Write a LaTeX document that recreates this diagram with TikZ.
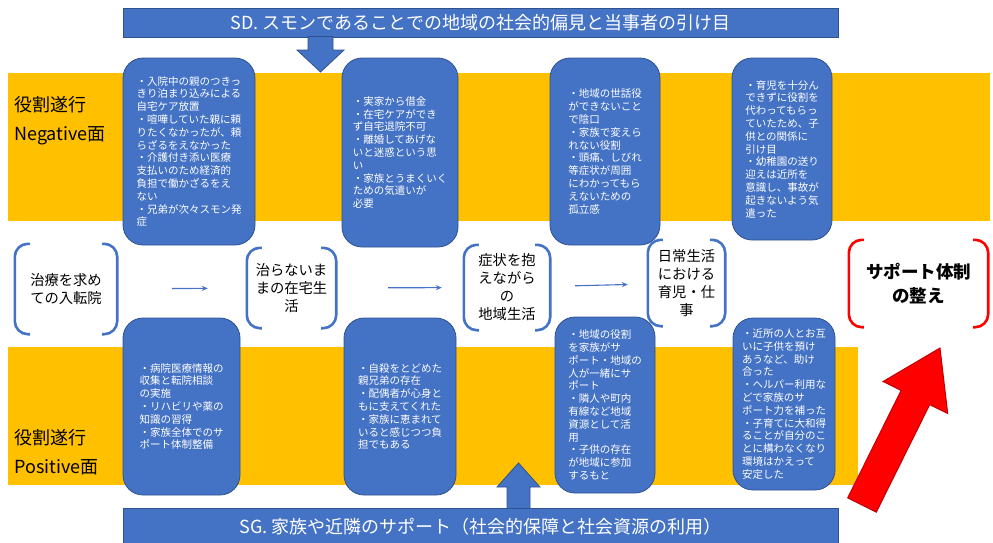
\documentclass[tikz,border=0pt]{standalone}
\usepackage{fontspec}
\setmainfont{Noto Sans CJK JP}
\usetikzlibrary{arrows.meta}
\definecolor{obl}{HTML}{4472C4}
\definecolor{obd}{HTML}{2F528F}
\definecolor{oyl}{HTML}{FFC000}
\definecolor{ored}{HTML}{FF0000}
\definecolor{oredd}{HTML}{C00000}
\newcommand\brkts[2]{%
  \draw[brk,draw=#2] ([xshift=15pt]#1.north west) -- (#1.north west) -- (#1.south west) -- ([xshift=15pt]#1.south west);
  \draw[brk,draw=#2] ([xshift=-15pt]#1.north east) -- (#1.north east) -- (#1.south east) -- ([xshift=-15pt]#1.south east);}
\begin{document}
\begin{tikzpicture}[x=1pt,y=-1pt,
  bbox/.style={draw=obd, line width=0.8pt, fill=obl, rounded corners=20pt, text=white,
    font=\fontsize{10.5}{12.8}\selectfont, align=left, inner sep=0pt},
  stage/.style={align=center, font=\fontsize{14.3}{18}\selectfont, inner sep=0pt, text=black},
  brk/.style={line width=2.6pt, rounded corners=13pt},
  banner/.style={draw=obd, line width=0.8pt, fill=obl, text=white, font=\fontsize{18}{20}\selectfont, inner sep=0pt},
  lbl/.style={font=\fontsize{18}{29}\selectfont, align=left, inner sep=0pt, anchor=west},
  arr/.style={draw=obl, line width=1.1pt, -{Stealth[length=6pt,width=5pt]}},
  barrow/.style={draw=obd, line width=0.8pt, fill=obl},
  band/.style={fill=oyl, draw=none}
]
\useasboundingbox (0,0) rectangle (993,542);
% yellow bands
\fill[band] (8,73) rectangle (990,221);
\fill[band] (8,347) rectangle (858,485);
% labels
\node[lbl] (lneg) at (14,120.5) {役割遂行\\Negative面};
\node[lbl] (lpos) at (14,452.5) {役割遂行\\Positive面};
% banners
\node[banner, minimum width=715pt, minimum height=29pt] (sd) at (480.5,22.5) {SD. スモンであることでの地域の社会的偏見と当事者の引け目};
\node[banner, minimum width=715pt, minimum height=38pt] (sg) at (480.5,527) {SG. 家族や近隣のサポート（社会的保障と社会資源の利用）};
% block arrows
\draw[barrow] (308,36.5) -- (333,36.5) -- (333,50) -- (344,50) -- (320.5,72) -- (297,50) -- (308,50) -- cycle;
\draw[barrow] (507,508.5) -- (530,508.5) -- (530,487) -- (540,487) -- (518.5,463) -- (497,487) -- (507,487) -- cycle;
% top boxes
\node[bbox, minimum width=132pt, minimum height=187pt] (n1) at (189,151.5) {・入院中の親のつきっ\\きり泊まり込みによる\\自宅ケア放置\\・喧嘩していた親に頼\\りたくなかったが、頼\\らざるをえなかった\\・介護付き添い医療\\支払いのため経済的\\負担で働かざるをえ\\ない\\・兄弟が次々スモン発\\症};
\node[bbox, minimum width=116pt, minimum height=189pt] (n2) at (400,152.5) {・実家から借金\\・在宅ケアができ\\ず自宅退院不可\\・離婚してあげな\\いと迷惑という思\\い\\・家族とうまくいく\\ための気遣いが\\必要};
\node[bbox, minimum width=110pt, minimum height=187pt] (n3) at (605,151.5) {・地域の世話役\\ができないこと\\で陰口\\・家族で変えら\\れない役割\\・頭痛、しびれ\\等症状が周囲\\にわかってもら\\えないための\\孤立感};
\node[bbox, minimum width=100pt, minimum height=182pt] (n4) at (782,149) {・育児を十分ん\\できずに役割を\\代わってもらっ\\ていたため、子\\供との関係に\\引け目\\・幼稚園の送り\\迎えは近所を\\意識し、事故が\\起きないよう気\\遣った};
% bottom boxes
\node[bbox, minimum width=117pt, minimum height=177pt] (p1) at (181.5,406.5) {・病院医療情報の\\収集と転院相談\\の実施\\・リハビリや薬の\\知識の習得\\・家族全体でのサ\\ポート体制整備};
\node[bbox, minimum width=112pt, minimum height=177pt] (p2) at (400,406.5) {・自殺をとどめた\\親兄弟の存在\\・配偶者が心身と\\もに支えてくれた\\・家族に恵まれて\\いると感じつつ負\\担でもある};
\node[bbox, minimum width=100pt, minimum height=176pt] (p3) at (605,405) {・地域の役割\\を家族がサ\\ポート・地域の\\人が一緒にサ\\ポート\\・隣人や町内\\有線など地域\\資源として活\\用\\・子供の存在\\が地域に参加\\するもと};
\node[bbox, minimum width=102pt, minimum height=172pt] (p4) at (784,404) {・近所の人とお互\\いに子供を預け\\あうなど、助け\\合った\\・ヘルパー利用な\\どで家族のサ\\ポート力を補った\\・子育てに大和得\\ることが自分のこ\\とに構わなくなり\\環境はかえって\\安定した};
% stages
\node[stage, minimum width=102pt, minimum height=90pt] (A) at (66,289) {治療を求め\\ての入転院};
\node[stage, minimum width=89pt, minimum height=80pt] (B) at (291.5,288) {治らないま\\まの在宅生\\活};
\node[stage, minimum width=86pt, minimum height=85pt] (C) at (507,287.5) {症状を抱\\えながら\\の\\地域生活};
\node[stage, minimum width=77pt, minimum height=86pt] (D) at (686.5,283) {日常生活\\における\\育児・仕\\事};
\node[stage, minimum width=139pt, minimum height=87pt, font=\fontsize{17.5}{24}\selectfont\bfseries] (E) at (918.5,283.5) {サポート体制\\の整え};
\brkts{A}{obl}
\brkts{B}{obl}
\brkts{C}{obl}
\brkts{D}{obl}
\brkts{E}{ored}
% stage arrows
\draw[arr, shorten <=55pt, shorten >=39pt] (A) -- (B);
\draw[arr, shorten <=52pt, shorten >=22pt] (B) -- (C);
\draw[arr, shorten <=25pt, shorten >=20pt] (C) -- (D);
% red block arrow
\draw[fill=ored, draw=oredd, line width=1pt] (876.3,512.1) -- (929.7,404.6) -- (947.7,413.5) -- (940,348) -- (883.1,381.5) -- (901.1,390.4) -- (847.7,497.9) -- cycle;
\end{tikzpicture}
\end{document}
